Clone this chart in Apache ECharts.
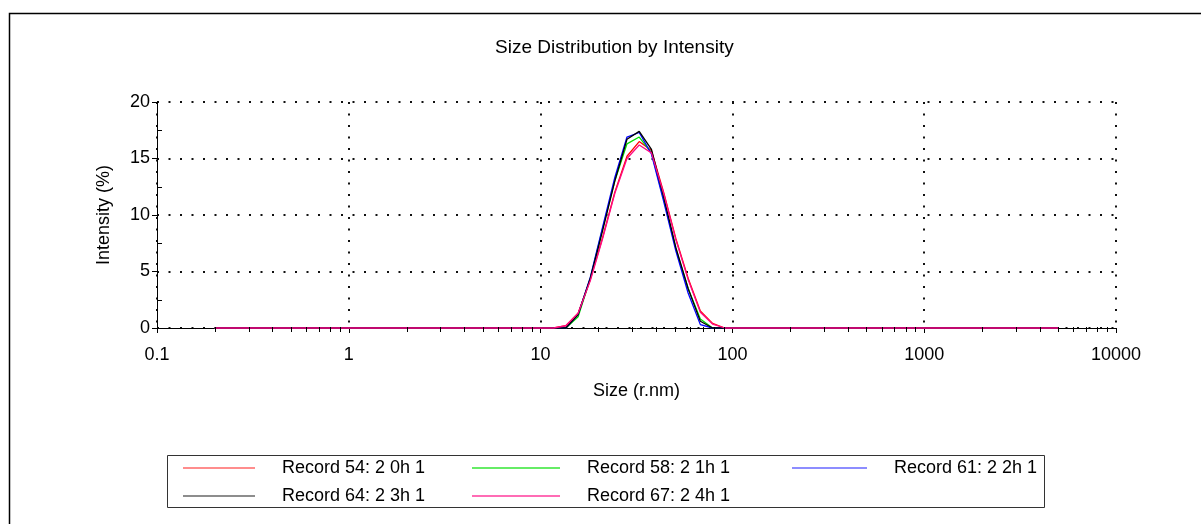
<!DOCTYPE html>
<html>
<head>
<meta charset="utf-8">
<script src="https://cdn.jsdelivr.net/npm/echarts@6/dist/echarts.min.js"></script>
<style>
  html, body { margin: 0; padding: 0; background: #fff; }
  #main { width: 1201px; height: 524px; }
</style>
</head>
<body>
<div id="main"></div>
<script>
// 粒径 (r.nm) 与各记录的强度分布 (%)
const sizes = [0.2, 11.7, 13.54, 15.69, 18.17, 21.04, 24.36, 28.21, 32.67, 37.84, 43.82, 50.75, 58.77, 68.06, 78.82, 91.28, 105.7, 5000];
const rec54 = [0, 0, 0.2, 1.3, 4.3, 8.0, 12.0, 15.2, 16.5, 15.7, 12.0, 7.9, 4.4, 1.5, 0.4, 0, 0, 0];
const rec58 = [0, 0, 0, 1.0, 4.4, 8.8, 13.0, 16.3, 16.9, 15.5, 11.4, 7.0, 3.5, 0.8, 0, 0, 0, 0];
const rec61 = [0, 0, 0, 1.2, 4.5, 8.9, 13.3, 16.9, 17.3, 15.4, 11.2, 6.8, 3.1, 0.3, 0, 0, 0, 0];
const rec64 = [0, 0, 0, 1.2, 4.4, 8.6, 13.0, 16.7, 17.4, 15.8, 11.6, 7.1, 3.5, 0.6, 0, 0, 0, 0];
const rec67 = [0, 0, 0.2, 1.3, 4.2, 7.9, 11.9, 15.0, 16.2, 15.5, 11.9, 7.8, 4.3, 1.4, 0.35, 0, 0, 0];
const seriesNames = ['Record 54: 2 0h 1', 'Record 58: 2 1h 1', 'Record 61: 2 2h 1', 'Record 64: 2 3h 1', 'Record 67: 2 4h 1'];
const seriesColors = ['#ff0000', '#00e000', '#0000ff', '#000000', '#ff0a84'];
const yMinorTicks = [2.5, 7.5, 12.5, 17.5];

const FONT = '"Liberation Sans", Arial, sans-serif';

// x轴次刻度 2..9 每个十倍程
var xMinorTicks = [];
[0.1, 1, 10, 100, 1000].forEach(function (d) {
    for (var k = 2; k <= 9; k++) xMinorTicks.push([+(d * k).toPrecision(3), 0]);
});

function pairs(vals) {
    return sizes.map(function (s, i) { return [s, vals[i]]; });
}

var allVals = [rec54, rec58, rec61, rec64, rec67];
var lineSeries = allVals.map(function (vals, i) {
    return {
        name: seriesNames[i],
        type: 'line',
        data: pairs(vals),
        symbol: 'none',
        clip: false,
        color: seriesColors[i],
        lineStyle: { width: 1.3, color: seriesColors[i] },
        zlevel: 1,
        z: 3 + i,
        animation: false
    };
});

var chartDom = document.getElementById('main');
var myChart = echarts.init(chartDom);

function legendCol(left, width, names) {
    return {
        orient: 'vertical',
        left: left,
        top: 454,
        itemWidth: width,
        itemHeight: 14,
        itemGap: 10,
        data: names,
        icon: 'path://M0,0L100,0L100,2L0,2Z',
        selectedMode: false,
        itemStyle: { opacity: 0.6 },
        textStyle: { fontFamily: FONT, fontSize: 18, color: '#000', padding: [0, 0, 0, 22] }
    };
}

var option = {
    animation: false,
    backgroundColor: '#fff',
    title: {
        text: 'Size Distribution by Intensity',
        left: 490,
        top: 33,
        textStyle: { fontFamily: FONT, fontSize: 19, fontWeight: 'normal', color: '#000' }
    },
    legend: [
        legendCol(178, 72, [seriesNames[0], seriesNames[3]]),
        legendCol(467, 88, [seriesNames[1], seriesNames[4]]),
        legendCol(787, 75, [seriesNames[2]])
    ],
    grid: { left: 157, right: 85, top: 102, bottom: 196, containLabel: false },
    xAxis: {
        type: 'log',
        logBase: 10,
        min: 0.1,
        max: 10000,
        name: 'Size (r.nm)',
        nameLocation: 'middle',
        nameGap: 54,
        nameTextStyle: { fontFamily: FONT, fontSize: 18, color: '#000' },
        axisLine: { show: true, lineStyle: { color: '#000', width: 1 } },
        axisTick: { show: true, length: 5, lineStyle: { color: '#000' } },
        axisLabel: {
            fontFamily: FONT, fontSize: 18, color: '#000', margin: 18,
            formatter: function (v) { return String(+v.toPrecision(3)); }
        },
        splitLine: { show: true, lineStyle: { color: '#111', width: 2, type: [2, 9.5] } }
    },
    yAxis: {
        type: 'value',
        min: 0,
        max: 20,
        interval: 5,
        name: 'Intensity (%)',
        nameLocation: 'middle',
        nameGap: 44,
        nameTextStyle: { fontFamily: FONT, fontSize: 18, color: '#000' },
        axisLine: { show: true, lineStyle: { color: '#000', width: 1 } },
        axisTick: { show: true, length: 5, lineStyle: { color: '#000' } },
        axisLabel: { fontFamily: FONT, fontSize: 18, color: '#000', margin: 7 },
        splitLine: { show: true, lineStyle: { color: '#111', width: 2, type: [2, 9.5] } }
    },
    graphic: [
        {
            type: 'polyline',
            shape: { points: [[9.5, 524], [9.5, 13.5], [1201, 13.5]] },
            style: { stroke: '#000', lineWidth: 1.5, fill: null },
            silent: true
        },
        {
            type: 'rect',
            shape: { x: 167.5, y: 455.5, width: 877, height: 52 },
            style: { stroke: '#333', lineWidth: 1, fill: null },
            silent: true
        }
    ],
    series: lineSeries.concat([
        {
            // x轴次刻度
            type: 'custom',
            data: xMinorTicks,
            silent: true,
            zlevel: 1,
            z: 20,
            renderItem: function (params, api) {
                var p = api.coord([api.value(0), 0]);
                return {
                    type: 'line',
                    shape: { x1: Math.round(p[0]) + 0.5, y1: p[1] - 1, x2: Math.round(p[0]) + 0.5, y2: p[1] + 4 },
                    style: { stroke: '#000', lineWidth: 1 }
                };
            }
        },
        {
            // y轴次刻度（朝内）
            type: 'custom',
            data: yMinorTicks.map(function (v) { return [0.1, v]; }),
            silent: true,
            zlevel: 1,
            z: 20,
            renderItem: function (params, api) {
                var p = api.coord([api.value(0), api.value(1)]);
                return {
                    type: 'line',
                    shape: { x1: p[0], y1: Math.round(p[1]) + 0.5, x2: p[0] + 5, y2: Math.round(p[1]) + 0.5 },
                    style: { stroke: '#000', lineWidth: 1 }
                };
            }
        }
    ])
};
myChart.setOption(option);
</script>
</body>
</html>
